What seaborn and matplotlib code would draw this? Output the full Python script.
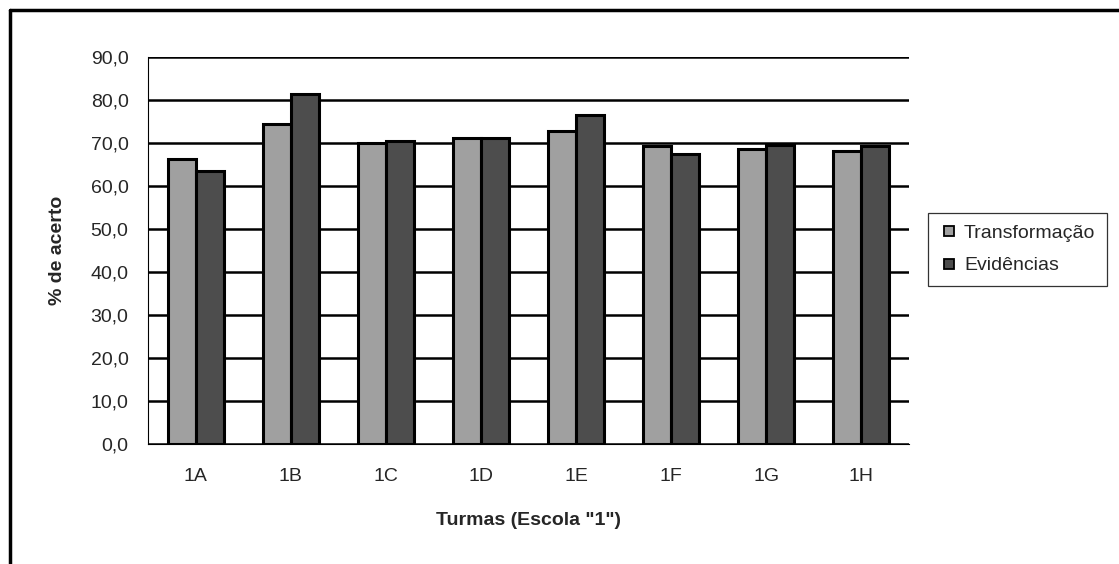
import matplotlib
matplotlib.use("Agg")
import matplotlib.pyplot as plt
import seaborn as sns
import pandas as pd
from matplotlib.lines import Line2D
from matplotlib.ticker import FuncFormatter, FixedLocator

turmas = ["1A", "1B", "1C", "1D", "1E", "1F", "1G", "1H"]
transformacao = [66.3, 74.5, 70.0, 71.1, 72.9, 69.2, 68.6, 68.1]
evidencias = [63.5, 81.3, 70.4, 71.1, 76.6, 67.5, 69.6, 69.2]
series_names = ["Transformação", "Evidências"]
colors = ["#A0A0A0", "#4D4D4D"]

df = pd.DataFrame({
    "turma": turmas * 2,
    "valor": transformacao + evidencias,
    "serie": [series_names[0]] * len(turmas) + [series_names[1]] * len(turmas),
})

sns.set_style("white")
plt.rcParams["font.family"] = ["Liberation Sans", "DejaVu Sans"]

W, H = 1119, 564
fig = plt.figure(figsize=(W / 100, H / 100), dpi=100)
ax = fig.add_axes([148 / W, 1 - 444 / H, (909 - 148) / W, (444 - 57) / H])

sns.barplot(data=df, x="turma", y="valor", hue="serie", palette=colors,
            width=0.59, gap=0, edgecolor="black", linewidth=2.2, ax=ax,
            legend=False, saturation=1)

ax.set_ylim(0, 90)
ax.set_xlim(-0.5, len(turmas) - 0.5)
ax.yaxis.set_major_locator(FixedLocator(range(0, 91, 10)))
ax.yaxis.set_major_formatter(FuncFormatter(lambda v, p: f"{v:.1f}".replace(".", ",")))
ax.set_axisbelow(True)
ax.grid(axis="y", color="black", linewidth=1.8)

ax.spines["top"].set_visible(False)
ax.spines["right"].set_visible(False)
for s in ["left", "bottom"]:
    ax.spines[s].set_color("black")
    ax.spines[s].set_linewidth(0.8)

# category boundary ticks on x
ax.set_xticks(range(len(turmas)))
ax.set_xticklabels(turmas, fontsize=14)
ax.set_xticks([i - 0.5 for i in range(len(turmas) + 1)], minor=True)
ax.tick_params(axis="x", which="major", length=0, pad=17)
ax.tick_params(axis="x", which="minor", length=5, width=0.8, direction="out", color="black")
ax.tick_params(axis="y", length=4, width=0.8, direction="out", color="black", labelsize=14, pad=10)

ax.set_xlabel('Turmas (Escola "1")', fontsize=14, fontweight="bold", labelpad=20)
ax.set_ylabel("% de acerto", fontsize=14, fontweight="bold", labelpad=18)

handles = [Line2D([0], [0], marker="s", linestyle="", markersize=7.5,
                  markerfacecolor=c, markeredgecolor="black", markeredgewidth=1.3)
           for c in colors]
leg = fig.legend(handles, series_names, loc="upper left",
                 bbox_to_anchor=(928 / W, 1 - 213 / H), borderaxespad=0,
                 frameon=True, fontsize=14, handletextpad=0.25, borderpad=0.6,
                 labelspacing=0.75, fancybox=False, handlelength=1.0)
leg.get_frame().set_edgecolor("black")
leg.get_frame().set_linewidth(0.9)

# outer chart frame (top and left edges visible)
fig.add_artist(Line2D([10 / W, 10 / W], [0, 1 - 10 / H], color="black", linewidth=2.5))
fig.add_artist(Line2D([10 / W, 1], [1 - 10 / H, 1 - 10 / H], color="black", linewidth=2.5))

fig.savefig("out.png", dpi=100)
